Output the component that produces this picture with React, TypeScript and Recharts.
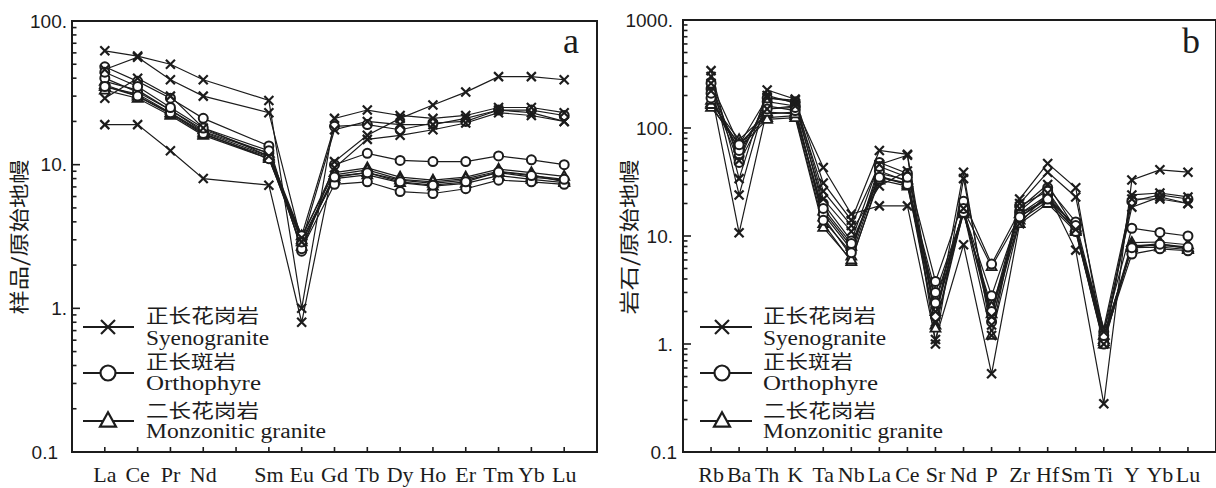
import React from "react";
import { LineChart, Line, XAxis, YAxis, ReferenceArea } from "recharts";

// REE diagram (panel a)
const reeTicks = ["La", "Ce", "Pr", "Nd", "", "Sm", "Eu", "Gd", "Tb", "Dy", "Ho", "Er", "Tm", "Yb", "Lu"];
const reeElements = ["La", "Ce", "Pr", "Nd", "Sm", "Eu", "Gd", "Tb", "Dy", "Ho", "Er", "Tm", "Yb", "Lu"];
const reePositions = [1, 2, 3, 4, 6, 7, 8, 9, 10, 11, 12, 13, 14, 15];

const syenoREE = [
  [62, 57, 50, 39, 28, 1.0, 21, 24, 22, 21, 22, 25, 25, 23],
  [46, 56, 39, 30, 23, 2.9, 17.5, 20, 19, 19, 21, 24, 23, 20],
  [29, 40, 30, 18, 11.5, 3.1, 9.5, 15, 16, 17.5, 19.5, 23, 22, 20],
  [19, 19, 12.5, 8, 7.2, 0.8, 10.5, 16, 21, 26, 32, 41, 41, 39],
];
const orthoREE = [
  [48, 38, 29, 21, 13.5, 2.5, 10, 12, 10.7, 10.5, 10.5, 11.5, 10.8, 10],
  [40, 32, 24, 17, 12, 2.6, 7.3, 7.6, 6.5, 6.3, 6.8, 7.8, 7.6, 7.3],
  [35, 30, 23, 16.5, 11, 3.2, 18.5, 19, 17.5, 19.5, 20, 24, 24, 22],
  [44, 35, 25, 18, 12.5, 2.9, 8.2, 8.8, 7.6, 7.2, 7.6, 8.9, 8.4, 7.9],
];
const monzoREE = [
  [38, 33, 24, 17.5, 12, 3.2, 8.8, 9.5, 8.2, 7.8, 8.2, 9.3, 8.8, 8.3],
  [35, 31, 23, 16.8, 11.5, 3.0, 8.3, 8.8, 7.8, 7.4, 7.8, 8.8, 8.2, 7.8],
  [33, 29, 22, 16, 11, 2.9, 8.0, 8.5, 7.5, 7.1, 7.4, 8.4, 7.9, 7.5],
  [36, 30, 22.5, 16.3, 11.3, 2.7, 8.5, 9.2, 7.9, 7.6, 8.0, 9.0, 8.5, 7.6],
];

// spider diagram (panel b)
const spiderElements = ["Rb", "Ba", "Th", "K", "Ta", "Nb", "La", "Ce", "Sr", "Nd", "P", "Zr", "Hf", "Sm", "Ti", "Y", "Yb", "Lu"];
const spiderPositions = [1, 2, 3, 4, 5, 6, 7, 8, 9, 10, 11, 12, 13, 14, 15, 16, 17, 18];

const syenoSpider = [
  [340, 34, 225, 185, 31, 14, 62, 57, 1.6, 39, 1.2, 22, 47, 28, 1.0, 24, 25, 23],
  [300, 24, 200, 170, 26, 12.5, 46, 56, 1.0, 34, 1.5, 20, 39, 23, 1.3, 18.5, 23, 20],
  [260, 50, 190, 180, 22, 11, 29, 40, 2.0, 18, 1.8, 18, 30, 11.5, 1.4, 22, 22, 20],
  [220, 10.7, 150, 160, 43, 16, 19, 19, 1.1, 8.3, 0.53, 13, 25, 7.4, 0.28, 33, 41, 39],
];
const orthoSpider = [
  [230, 55, 175, 160, 20, 9, 48, 38, 3.8, 21, 5.5, 17, 28, 13.5, 1.3, 11.8, 10.8, 10],
  [190, 62, 160, 145, 16, 7.5, 40, 32, 2.4, 17, 2.8, 16, 24, 12, 1.1, 6.8, 7.6, 7.3],
  [260, 70, 190, 175, 18, 8.5, 35, 30, 3.0, 16.5, 2.0, 19, 26, 11, 1.0, 21, 24, 22],
  [210, 48, 150, 155, 14, 7, 44, 35, 1.8, 18, 1.6, 15, 22, 12.5, 1.2, 7.8, 8.4, 7.9],
];
const monzoSpider = [
  [170, 78, 135, 140, 15, 6.5, 38, 33, 1.5, 17.5, 5.2, 15, 23, 12, 1.1, 8.7, 8.8, 8.3],
  [155, 72, 125, 130, 13, 5.8, 35, 31, 1.4, 16.8, 1.2, 14, 21, 11.5, 1.0, 8.2, 8.2, 7.8],
  [165, 65, 120, 125, 12, 6, 33, 29, 2.0, 16, 2.2, 13, 20, 11, 1.05, 7.8, 7.9, 7.5],
  [180, 68, 140, 135, 17, 8, 36, 30, 2.6, 16.3, 1.9, 16, 22, 11.3, 1.2, 8.0, 8.5, 7.6],
];

const INK = "#1c1c1c";
const SERIF = "'Liberation Serif', 'Times New Roman', serif";
const SANS = "'Liberation Sans', Arial, sans-serif";
const CJK = "'Noto Sans CJK SC', sans-serif";

function logTicks(lo: number, hi: number) {
  const out: number[] = [];
  for (let d = lo; d < hi * 0.99; d *= 10) {
    for (let m = 1; m <= 9; m++) out.push(Number((m * d).toPrecision(3)));
  }
  out.push(hi);
  return out;
}

function buildRows(positions: number[], groups: { key: string; values: number[][] }[]) {
  return positions.map((pos, i) => {
    const row: any = { pos };
    groups.forEach((g) => g.values.forEach((arr, j) => (row[`${g.key}${j}`] = arr[i])));
    return row;
  });
}

const Cross = ({ cx, cy, s = 4.5, w = 2.2 }: any) => (
  <g>
    <line x1={cx - s} y1={cy - s} x2={cx + s} y2={cy + s} stroke={INK} strokeWidth={w} />
    <line x1={cx - s} y1={cy + s} x2={cx + s} y2={cy - s} stroke={INK} strokeWidth={w} />
  </g>
);
const Ring = ({ cx, cy, r = 4.5, w = 2 }: any) => <circle cx={cx} cy={cy} r={r} fill="#fff" stroke={INK} strokeWidth={w} />;
const Tri = ({ cx, cy, s = 5, w = 1.8 }: any) => (
  <polygon
    points={`${cx},${cy - s * 1.1} ${cx - s},${cy + s * 0.7} ${cx + s},${cy + s * 0.7}`}
    fill="#fff"
    stroke={INK}
    strokeWidth={w}
  />
);

const markers: Record<string, any> = { x: Cross, o: Ring, t: Tri };

function seriesLines(key: string, count: number) {
  const Mark = markers[key];
  return Array.from({ length: count }, (_, j) => (
    <Line
      key={`${key}${j}`}
      dataKey={`${key}${j}`}
      stroke={INK}
      strokeWidth={1.2}
      isAnimationActive={false}
      activeDot={false}
      dot={(p: any) => <Mark key={`${key}${j}-${p.index}`} cx={p.cx} cy={p.cy} />}
    />
  ));
}

function makeYTick(gapMain: number, gapSmall: number) {
  return (props: any) => {
    const { x, y, payload } = props;
    const v = payload.value;
    const lg = Math.log10(v);
    const major = Math.abs(lg - Math.round(lg)) < 1e-6;
    const label = v >= 1 ? `${v}.` : `${v}`;
    return (
      <g>
        <line x1={x} y1={y} x2={x + (major ? 8 : 4.5)} y2={y} stroke={INK} strokeWidth={1.6} />
        {major && (
          <text x={x - (v < 1 ? gapSmall : gapMain)} y={y} textAnchor="end" dominantBaseline="central" fontFamily={SANS} fontSize={19} fill={INK}>
            {label}
          </text>
        )}
      </g>
    );
  };
}

function makeXTick(labels: string[]) {
  return (props: any) => {
    const { x, y, payload } = props;
    return (
      <g>
        <line x1={x} y1={y} x2={x} y2={y - 5} stroke={INK} strokeWidth={1.6} />
        <text x={x} y={y + 30} textAnchor="middle" fontFamily={SERIF} fontSize={22} fill={INK}>
          {labels[payload.value - 1]}
        </text>
      </g>
    );
  };
}

const reeRows = buildRows(reePositions, [
  { key: "t", values: monzoREE },
  { key: "o", values: orthoREE },
  { key: "x", values: syenoREE },
]);
const spiderRows = buildRows(spiderPositions, [
  { key: "t", values: monzoSpider },
  { key: "o", values: orthoSpider },
  { key: "x", values: syenoSpider },
]);

const LegendBlock = ({ lx1, lx2, mx, tx }: any) => {
  const rows = [
    { zh: "正长花岗岩", en: "Syenogranite", enW: 123, zhW: 113, my: 327, zy: 314, ey: 338, M: Cross },
    { zh: "正长斑岩", en: "Orthophyre", enW: 115, zhW: 90, my: 373, zy: 360, ey: 383, M: Ring },
    { zh: "二长花岗岩", en: "Monzonitic granite", enW: 180, zhW: 113, my: 421, zy: 409, ey: 431, M: Tri },
  ];
  return (
    <g>
      {rows.map((r) => (
        <g key={r.en}>
          <line x1={lx1} y1={r.my} x2={lx2} y2={r.my} stroke={INK} strokeWidth={2.2} />
          <r.M cx={mx} cy={r.my} s={r.M === Tri ? 8 : 7} r={7.5} w={2.2} />
          <text x={tx} y={r.zy} dominantBaseline="central" fontFamily={CJK} fontSize={19} fill={INK} textLength={r.zhW} lengthAdjust="spacingAndGlyphs">
            {r.zh}
          </text>
          <text x={tx} y={r.ey} dominantBaseline="central" fontFamily={SERIF} fontSize={20} fill={INK} textLength={r.enW} lengthAdjust="spacingAndGlyphs">
            {r.en}
          </text>
        </g>
      ))}
    </g>
  );
};

export default function App() {
  const n = 4;
  return (
    <div style={{ position: "absolute", left: 0, top: 0, width: 1216, height: 488, background: "#fff", overflow: "hidden" }}>
      <div style={{ position: "absolute", left: 0, top: 0 }}>
        <LineChart width={620} height={488} data={reeRows} margin={{ top: 21, right: 23, bottom: 0, left: 0 }}>
          <XAxis
            type="number"
            dataKey="pos"
            domain={[0, 16]}
            ticks={reeTicks.map((_, i) => i + 1)}
            interval={0}
            tick={makeXTick(reeTicks)}
            tickSize={0}
            tickMargin={0}
            tickLine={false}
            axisLine={false}
            height={36}
          />
          <YAxis
            type="number"
            scale="log"
            domain={[0.1, 100]}
            allowDataOverflow
            ticks={logTicks(0.1, 100)}
            interval={0}
            tick={makeYTick(5, 14)}
            tickSize={0}
            tickMargin={0}
            tickLine={false}
            axisLine={false}
            width={72}
          />
          <ReferenceArea x1={0} x2={16} y1={0.1} y2={100} fill="none" stroke={INK} strokeWidth={2} />
          {seriesLines("t", n)}
          {seriesLines("o", n)}
          {seriesLines("x", n)}
        </LineChart>
      </div>
      <div style={{ position: "absolute", left: 600, top: 0 }}>
        <LineChart width={616} height={488} data={spiderRows} margin={{ top: 20, right: 0, bottom: 0, left: 0 }}>
          <XAxis
            type="number"
            dataKey="pos"
            domain={[0, 19]}
            ticks={spiderPositions}
            interval={0}
            tick={makeXTick(spiderElements)}
            tickSize={0}
            tickMargin={0}
            tickLine={false}
            axisLine={false}
            height={36}
          />
          <YAxis
            type="number"
            scale="log"
            domain={[0.1, 1000]}
            allowDataOverflow
            ticks={logTicks(0.1, 1000)}
            interval={0}
            tick={makeYTick(10, 6)}
            tickSize={0}
            tickMargin={0}
            tickLine={false}
            axisLine={false}
            width={83}
          />
          <ReferenceArea x1={0} x2={19} y1={0.1} y2={1000} fill="none" stroke={INK} strokeWidth={2} />
          {seriesLines("t", n)}
          {seriesLines("o", n)}
          {seriesLines("x", n)}
        </LineChart>
      </div>
      <svg width={1216} height={488} style={{ position: "absolute", left: 0, top: 0, pointerEvents: "none" }}>
        <text x={18} y={237} transform="rotate(-90 18 237)" textAnchor="middle" dominantBaseline="central" fontFamily={CJK} fontSize={20} fill={INK} textLength={155} lengthAdjust="spacingAndGlyphs">
          样品/原始地幔
        </text>
        <text x={628} y={237} transform="rotate(-90 628 237)" textAnchor="middle" dominantBaseline="central" fontFamily={CJK} fontSize={20} fill={INK} textLength={155} lengthAdjust="spacingAndGlyphs">
          岩石/原始地幔
        </text>
        <text x={563} y={53} fontFamily={SERIF} fontSize={36} fill={INK}>a</text>
        <text x={1182} y={53} fontFamily={SERIF} fontSize={36} fill={INK}>b</text>
        <LegendBlock lx1={83} lx2={134} mx={108} tx={146} />
        <LegendBlock lx1={700} lx2={752} mx={722} tx={763} />
      </svg>
    </div>
  );
}
